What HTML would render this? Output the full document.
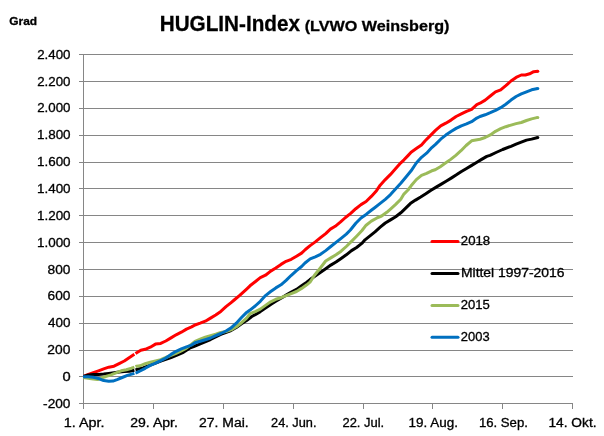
<!DOCTYPE html>
<html><head><meta charset="utf-8"><title>HUGLIN-Index</title>
<style>
html,body{margin:0;padding:0;background:#fff;width:604px;height:436px;overflow:hidden}
svg{display:block;will-change:transform}
text{font-family:"Liberation Sans", Arial, sans-serif;fill:#000;stroke:#000;stroke-width:0.3px}
</style></head><body>
<svg width="604" height="436" viewBox="0 0 604 436">
<rect width="604" height="436" fill="#fff"/>

<g stroke="#868686" stroke-width="1" shape-rendering="crispEdges"><line x1="79" y1="54.5" x2="573" y2="54.5"/><line x1="79" y1="81.5" x2="573" y2="81.5"/><line x1="79" y1="108.5" x2="573" y2="108.5"/><line x1="79" y1="135.5" x2="573" y2="135.5"/><line x1="79" y1="162.5" x2="573" y2="162.5"/><line x1="79" y1="188.5" x2="573" y2="188.5"/><line x1="79" y1="215.5" x2="573" y2="215.5"/><line x1="79" y1="242.5" x2="573" y2="242.5"/><line x1="79" y1="269.5" x2="573" y2="269.5"/><line x1="79" y1="296.5" x2="573" y2="296.5"/><line x1="79" y1="323.5" x2="573" y2="323.5"/><line x1="79" y1="350.5" x2="573" y2="350.5"/><line x1="79" y1="376.5" x2="573" y2="376.5"/><line x1="79" y1="403.5" x2="573" y2="403.5"/>
<line x1="83.5" y1="54" x2="83.5" y2="409"/>
<line x1="83.5" y1="403" x2="83.5" y2="409"/>
<line x1="153.5" y1="403" x2="153.5" y2="409"/>
<line x1="223.5" y1="403" x2="223.5" y2="409"/>
<line x1="293.5" y1="403" x2="293.5" y2="409"/>
<line x1="363.5" y1="403" x2="363.5" y2="409"/>
<line x1="432.5" y1="403" x2="432.5" y2="409"/>
<line x1="502.5" y1="403" x2="502.5" y2="409"/>
<line x1="572.5" y1="403" x2="572.5" y2="409"/>
</g>
<text x="9.37" y="24.90" font-size="11" font-weight="bold" textLength="27.80" lengthAdjust="spacingAndGlyphs">Grad</text>
<text x="159.76" y="30.60" font-size="22" font-weight="bold" textLength="140.19" lengthAdjust="spacingAndGlyphs">HUGLIN-Index</text>
<text x="304.71" y="30.80" font-size="15.5" font-weight="bold" textLength="144.73" lengthAdjust="spacingAndGlyphs">(LVWO Weinsberg)</text>
<text x="63.84" y="427.10" font-size="12" textLength="40.79" lengthAdjust="spacingAndGlyphs">1. Apr.</text>
<text x="130.22" y="427.10" font-size="12" textLength="47.69" lengthAdjust="spacingAndGlyphs">29. Apr.</text>
<text x="199.08" y="427.10" font-size="12" textLength="49.62" lengthAdjust="spacingAndGlyphs">27. Mai.</text>
<text x="271.08" y="427.10" font-size="12" textLength="45.37" lengthAdjust="spacingAndGlyphs">24. Jun.</text>
<text x="342.45" y="427.10" font-size="12" textLength="41.75" lengthAdjust="spacingAndGlyphs">22. Jul.</text>
<text x="408.55" y="427.10" font-size="12" textLength="49.43" lengthAdjust="spacingAndGlyphs">19. Aug.</text>
<text x="478.90" y="427.10" font-size="12" textLength="49.01" lengthAdjust="spacingAndGlyphs">16. Sep.</text>
<text x="548.48" y="427.10" font-size="12" textLength="48.07" lengthAdjust="spacingAndGlyphs">14. Okt.</text>
<text x="37.17" y="58.80" font-size="12" textLength="33.30" lengthAdjust="spacingAndGlyphs">2.400</text>
<text x="37.17" y="85.65" font-size="12" textLength="33.30" lengthAdjust="spacingAndGlyphs">2.200</text>
<text x="37.17" y="112.49" font-size="12" textLength="33.30" lengthAdjust="spacingAndGlyphs">2.000</text>
<text x="36.94" y="139.34" font-size="12" textLength="33.65" lengthAdjust="spacingAndGlyphs">1.800</text>
<text x="36.94" y="166.18" font-size="12" textLength="33.65" lengthAdjust="spacingAndGlyphs">1.600</text>
<text x="36.94" y="193.03" font-size="12" textLength="33.65" lengthAdjust="spacingAndGlyphs">1.400</text>
<text x="36.94" y="219.88" font-size="12" textLength="33.65" lengthAdjust="spacingAndGlyphs">1.200</text>
<text x="36.94" y="246.72" font-size="12" textLength="33.65" lengthAdjust="spacingAndGlyphs">1.000</text>
<text x="47.53" y="273.57" font-size="12" textLength="22.86" lengthAdjust="spacingAndGlyphs">800</text>
<text x="47.53" y="300.42" font-size="12" textLength="22.85" lengthAdjust="spacingAndGlyphs">600</text>
<text x="47.93" y="327.26" font-size="12" textLength="22.46" lengthAdjust="spacingAndGlyphs">400</text>
<text x="47.38" y="354.11" font-size="12" textLength="23.04" lengthAdjust="spacingAndGlyphs">200</text>
<text x="62.42" y="380.95" font-size="12" textLength="8.17" lengthAdjust="spacingAndGlyphs">0</text>
<text x="43.11" y="407.80" font-size="12" textLength="27.38" lengthAdjust="spacingAndGlyphs">-200</text>
<defs><clipPath id="pa"><rect x="83" y="40" width="500" height="380"/></clipPath></defs>
<g fill="none" stroke-width="3" stroke-linejoin="round" stroke-linecap="butt" clip-path="url(#pa)">
<polyline stroke="#FF0000" points="83.0,376.7 87.1,374.9 93.3,372.7 98.5,370.8 103.7,368.9 108.8,367.2 114.0,366.2 119.1,363.6 124.3,361.0 129.5,357.4 133.6,354.8 134.4,354.3"/>
<polyline stroke="#FF0000" points="135.5,353.5 136.7,352.7 140.8,350.2 145.2,349.3 150.3,347.2 155.5,344.1 160.7,343.4 165.8,341.0 171.0,337.9 176.1,334.8 181.3,332.2 186.5,329.1 191.6,326.9 195.0,325.0 200.2,323.2 205.3,321.2 210.5,318.1 215.7,315.0 220.8,311.4 226.0,306.7 231.1,302.6 234.2,300.0 240.0,295.2 246.9,288.8 250.0,285.8 255.2,281.7 260.3,277.6 265.5,275.2 270.7,271.1 275.8,268.0 281.0,264.4 286.1,261.3 291.3,259.3 296.5,256.2 301.6,253.1 305.4,249.5 310.1,245.6 315.3,241.9 320.5,237.7 325.7,233.6 330.4,229.1 335.2,226.3 340.3,222.2 345.5,217.5 350.7,213.4 355.8,208.7 361.0,204.6 366.1,201.5 371.3,196.4 376.5,190.7 380.2,185.2 385.3,179.6 390.5,174.4 395.7,168.6 400.8,162.8 404.0,159.8 408.0,155.6 411.1,152.2 416.3,148.6 421.5,145.0 425.2,140.8 430.3,135.6 435.5,130.4 440.7,125.8 445.8,123.2 451.0,120.1 456.1,116.5 461.3,113.9 466.5,111.4 471.6,109.3 476.8,104.6 480.0,103.2 485.2,100.1 490.3,96.0 495.5,91.8 500.7,89.8 505.8,85.6 511.0,81.0 516.1,77.4 521.3,75.0 525.4,75.0 529.6,73.8 533.7,71.7 537.8,71.2"/>
<circle cx="537.8" cy="71.2" r="1.5" fill="#FF0000" stroke="none"/>
<polyline stroke="#000000" points="83.0,376.7 87.1,375.3 93.3,374.4 98.5,374.4 103.7,374.1 108.8,373.4 114.0,372.7 119.1,372.0 124.3,371.6 129.5,371.3 134.4,370.3"/>
<polyline stroke="#000000" points="135.5,370.0 138.8,368.9 143.0,367.9 150.3,365.2 160.7,361.0 171.0,357.5 177.0,355.0 183.4,352.3 189.6,348.2 193.7,346.7 200.2,343.9 210.5,339.5 220.8,334.3 231.1,330.5 236.3,327.5 241.5,323.8 246.6,320.6 251.8,316.5 255.2,314.7 260.3,311.6 265.5,308.0 270.7,304.4 275.8,301.3 281.0,298.2 286.1,295.1 291.3,292.0 296.5,289.4 301.6,285.8 306.8,282.2 310.0,279.6 317.4,274.5 325.7,268.7 330.8,265.1 336.0,262.0 341.1,258.4 346.3,254.8 351.5,250.6 356.6,247.5 361.8,243.4 365.0,239.8 370.0,235.8 375.0,231.8 380.2,227.2 385.3,223.0 390.5,219.9 395.7,216.8 400.8,212.8 405.2,208.6 410.3,203.6 415.5,200.1 420.7,197.0 425.8,193.8 431.0,190.3 436.2,187.1 441.3,184.1 446.5,181.0 451.6,177.9 456.8,174.6 461.0,171.8 466.1,168.7 471.3,165.6 476.5,162.5 481.6,159.4 486.8,156.4 490.0,155.3 496.0,152.5 502.7,149.5 511.0,146.3 516.1,144.2 521.3,142.2 526.5,140.1 531.6,139.1 537.8,137.5"/>
<circle cx="537.8" cy="137.5" r="1.5" fill="#000000" stroke="none"/>
<polyline stroke="#9BBB59" points="83.0,377.5 88.2,378.2 93.3,379.1 97.5,379.6 101.6,378.0 105.7,376.5 110.9,374.9 116.0,372.9 121.2,370.8 126.4,369.8 131.5,368.2 134.4,367.1"/>
<polyline stroke="#9BBB59" points="135.5,366.7 136.7,366.2 140.0,365.8 145.2,363.7 150.3,362.2 155.5,360.9 160.7,359.6 165.8,357.5 171.0,355.4 176.1,353.4 181.3,350.8 186.5,348.2 191.6,344.1 195.0,341.3 200.2,339.2 205.3,337.2 210.5,335.6 215.7,334.1 220.8,332.5 226.0,331.5 231.1,329.9 236.3,326.8 241.5,322.7 246.6,318.1 250.0,313.7 255.2,311.6 260.3,309.1 265.5,305.4 270.7,301.8 275.8,299.3 281.0,297.7 286.1,295.6 291.3,293.6 296.5,291.5 301.6,288.4 306.8,284.8 310.0,282.2 314.3,275.5 320.5,267.7 325.7,261.0 330.8,257.9 336.0,254.8 341.1,251.2 346.3,246.5 351.5,241.4 356.6,236.2 362.0,230.5 366.1,225.2 371.3,221.1 376.5,218.2 381.6,216.0 386.8,212.3 390.5,209.1 395.7,204.4 400.8,199.3 403.9,194.1 408.0,190.0 411.1,185.8 416.3,179.6 421.5,175.4 426.6,173.4 431.8,170.8 435.2,169.8 440.3,166.7 445.5,163.1 450.7,159.4 455.8,155.3 461.0,150.7 466.1,145.5 471.6,140.8 480.0,139.2 485.2,137.5 490.3,134.9 495.5,131.3 500.7,128.7 505.8,126.7 511.0,125.1 516.1,123.6 521.3,122.5 526.5,120.5 531.6,118.9 537.8,117.4"/>
<circle cx="537.8" cy="117.4" r="1.5" fill="#9BBB59" stroke="none"/>
<polyline stroke="#0070C0" points="83.0,376.8 88.2,376.8 93.3,377.2 98.5,378.5 103.7,380.6 108.8,381.3 113.0,381.1 117.1,379.6 122.2,377.5 127.4,375.4 132.6,373.9 134.4,373.3"/>
<polyline stroke="#0070C0" points="135.5,373.0 136.7,372.6 140.0,371.0 145.2,368.3 150.3,365.4 155.5,363.2 160.7,360.6 165.8,358.0 171.0,354.4 176.1,351.3 181.3,348.9 186.5,346.9 191.6,345.1 195.0,342.8 200.2,341.3 205.3,339.7 210.5,338.0 215.7,335.6 220.8,333.5 226.0,331.0 231.1,327.9 236.3,323.2 241.5,317.5 246.6,312.4 250.0,310.1 255.2,306.0 260.3,301.3 265.5,295.6 270.7,291.5 275.8,287.9 281.0,284.8 286.1,280.4 291.3,275.3 296.5,270.6 301.6,266.5 305.0,263.0 310.2,258.9 315.3,256.8 320.5,254.3 325.7,250.6 330.8,246.5 336.0,242.4 341.1,238.3 346.3,234.1 350.4,230.0 355.8,223.2 361.0,218.0 366.1,214.4 371.3,210.3 375.0,207.5 380.2,203.4 385.3,199.3 390.5,194.6 394.6,190.0 400.8,183.2 406.0,177.0 411.1,170.8 416.3,163.0 421.5,157.3 426.6,153.2 431.8,147.6 435.5,144.4 440.7,139.2 445.8,135.1 451.0,131.5 456.1,128.4 461.3,125.8 466.5,123.9 471.6,121.7 476.8,118.1 480.0,116.5 485.2,114.8 490.3,112.7 495.5,110.4 500.7,107.7 505.8,104.2 511.0,100.1 516.1,96.5 521.3,93.9 526.5,91.8 531.6,89.8 537.8,88.5"/>
<circle cx="537.8" cy="88.5" r="1.5" fill="#0070C0" stroke="none"/>
</g>
<line x1="432" y1="241.5" x2="458" y2="241.5" stroke="#FF0000" stroke-width="3" stroke-linecap="round"/>
<text x="460.87" y="244.80" font-size="12" textLength="29.33" lengthAdjust="spacingAndGlyphs">2018</text>
<line x1="432" y1="273.4" x2="458" y2="273.4" stroke="#000000" stroke-width="3" stroke-linecap="round"/>
<text x="461.00" y="276.90" font-size="12" textLength="103.44" lengthAdjust="spacingAndGlyphs">Mittel 1997-2016</text>
<line x1="432" y1="305.4" x2="458" y2="305.4" stroke="#9BBB59" stroke-width="3" stroke-linecap="round"/>
<text x="460.80" y="308.70" font-size="12" textLength="29.09" lengthAdjust="spacingAndGlyphs">2015</text>
<line x1="432" y1="337.3" x2="458" y2="337.3" stroke="#0070C0" stroke-width="3" stroke-linecap="round"/>
<text x="460.80" y="340.80" font-size="12" textLength="28.79" lengthAdjust="spacingAndGlyphs">2003</text>
</svg>
</body></html>
